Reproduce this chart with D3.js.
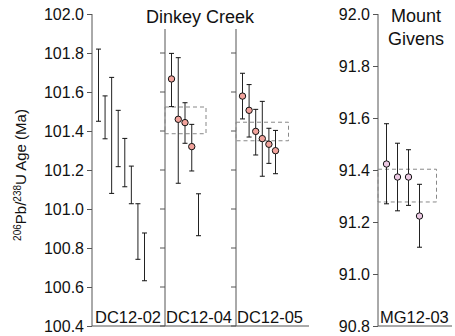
<!DOCTYPE html>
<html><head><meta charset="utf-8">
<script src="https://cdn.jsdelivr.net/npm/d3@7"></script>
<style>body{margin:0;background:#fff}svg{display:block}text{font-family:"Liberation Sans",Arial,sans-serif;fill:#111}</style>
</head><body><svg id="c" width="455" height="336"></svg>
<script>
// ---- data ----
const dcTicks = [100.4, 100.6, 100.8, 101.0, 101.2, 101.4, 101.6, 101.8, 102.0];
const mgTicks = [90.8, 91.0, 91.2, 91.4, 91.6, 91.8, 92.0];
const sampleNames = ["DC12-02", "DC12-04", "DC12-05", "MG12-03"];
// error bars: [low, high, mean or null]
const dc1202 = [[101.45,101.82,null],[101.36,101.58,null],[101.08,101.675,null],[101.217,101.506,null],[101.114,101.362,null],[101.027,101.22,null],[100.742,101.027,null],[100.632,100.877,null]];
const dc1204 = [[101.525,101.798,101.667],[101.132,101.776,101.46],[101.337,101.545,101.443],[101.195,101.434,101.32],[100.863,101.078,null]];
const dc1205 = [[101.462,101.696,101.579],[101.369,101.638,101.506],[101.277,101.511,101.398],[101.168,101.552,101.361],[101.234,101.414,101.332],[101.181,101.403,101.299]];
const mg1203 = [[91.27,91.578,91.423],[91.243,91.503,91.373],[91.264,91.478,91.373],[91.103,91.345,91.223]];
const dcBox04 = [101.386, 101.523];
const dcBox05 = [101.350, 101.445];
const mgBox = [91.277, 91.403];

const svg = d3.select("#c");
const yDC = d3.scaleLinear().domain([100.4, 102.0]).range([326, 14]);
const yMG = d3.scaleLinear().domain([90.8, 92.0]).range([326, 14]);
const axisCol = "#555";

// left axis
const gL = svg.append("g").attr("transform","translate(92,0)");
gL.call(d3.axisLeft(yDC).tickValues(dcTicks).tickFormat(d3.format(".1f")).tickSize(5).tickPadding(3));
// right axis
const gR = svg.append("g").attr("transform","translate(378,0)");
gR.call(d3.axisLeft(yMG).tickValues(mgTicks).tickFormat(d3.format(".1f")).tickSize(5).tickPadding(3));
[gL,gR].forEach(g=>{
  g.select(".domain").remove();
  g.selectAll(".tick line").attr("stroke",axisCol);
  g.selectAll(".tick text").attr("font-size",16).attr("font-family","Liberation Sans, Arial, sans-serif").attr("fill","#111");
});
svg.append("line").attr("x1",92).attr("x2",92).attr("y1",14).attr("y2",326).attr("stroke",axisCol);
svg.append("line").attr("x1",378).attr("x2",378).attr("y1",14).attr("y2",326).attr("stroke",axisCol);
// dividers
[165,236].forEach(x=>{
  svg.append("line").attr("x1",x).attr("x2",x).attr("y1",29).attr("y2",326).attr("stroke",axisCol);
  svg.selectAll(null).data(dcTicks.slice(0,-1)).enter().append("line")
    .attr("x1",x-5).attr("x2",x).attr("y1",d=>yDC(d)).attr("y2",d=>yDC(d)).attr("stroke",axisCol);
});
// bottom lines
svg.append("line").attr("x1",92).attr("x2",309).attr("y1",326).attr("y2",326).attr("stroke",axisCol);
svg.append("line").attr("x1",378).attr("x2",452).attr("y1",326).attr("y2",326).attr("stroke",axisCol);

// boxes
function box(x0,x1,ext,y){
  svg.append("rect").attr("x",x0).attr("width",x1-x0).attr("y",y(ext[1])).attr("height",y(ext[0])-y(ext[1]))
    .attr("fill","none").attr("stroke","#888").attr("stroke-dasharray","4,3");
}
box(165,206,dcBox04,yDC);
box(236,288.5,dcBox05,yDC);
box(378,436.5,mgBox,yMG);

function bars(data, x0, x1, y, fill){
  const x = d3.scaleLinear().domain([0,data.length-1]).range([x0,x1]);
  const g = svg.append("g");
  data.forEach((d,i)=>{
    const xx = x(i);
    g.append("line").attr("x1",xx).attr("x2",xx).attr("y1",y(d[0])).attr("y2",y(d[1])).attr("stroke","#222");
    [d[0],d[1]].forEach(v=>g.append("line").attr("x1",xx-2.5).attr("x2",xx+2.5).attr("y1",y(v)).attr("y2",y(v)).attr("stroke","#111"));
    if(d[2]!==null) g.append("circle").attr("cx",xx).attr("cy",y(d[2])).attr("r",3.2).attr("fill",fill).attr("stroke","#111").attr("stroke-width",1);
  });
}
bars(dc1202, 98.5, 144.5, yDC, "#f2a39c");
bars(dc1204, 171.5, 198.5, yDC, "#f2a39c");
bars(dc1205, 242.5, 275.5, yDC, "#f2a39c");
bars(mg1203, 386.5, 419.5, yMG, "#ecc9e3");

// sample labels
[[95,sampleNames[0]],[166,sampleNames[1]],[237,sampleNames[2]],[380,sampleNames[3]]].forEach(([x,t])=>{
  svg.append("text").attr("x",x).attr("y",323).attr("font-size",16.5).text(t);
});
// titles
svg.append("text").attr("x",200).attr("y",23).attr("text-anchor","middle").attr("font-size",18).text("Dinkey Creek");
svg.append("text").attr("x",416).attr("y",22).attr("text-anchor","middle").attr("font-size",18).text("Mount");
svg.append("text").attr("x",416).attr("y",45).attr("text-anchor","middle").attr("font-size",18).text("Givens");
// y label
const yl = svg.append("text").attr("transform","translate(26,175) rotate(-90)").attr("text-anchor","middle").attr("font-size",15);
yl.append("tspan").attr("font-size",10).attr("dy",-5).text("206");
yl.append("tspan").attr("dy",5).text("Pb/");
yl.append("tspan").attr("font-size",10).attr("dy",-5).text("238");
yl.append("tspan").attr("dy",5).text("U Age (Ma)");
</script></body></html>
